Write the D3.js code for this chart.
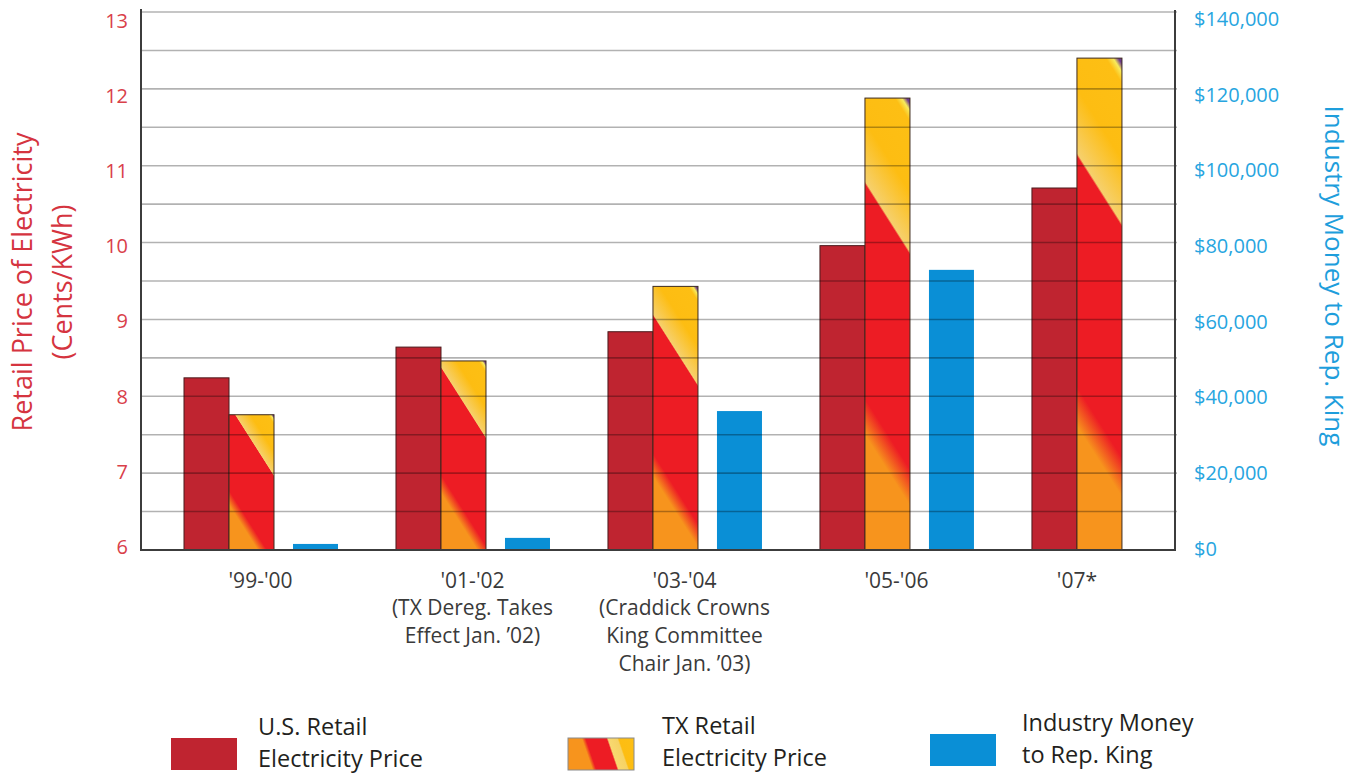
<!DOCTYPE html>
<html><head><meta charset="utf-8">
<script src="https://cdn.jsdelivr.net/npm/d3@7"></script>
<style>
body{margin:0;background:#fff}
svg{display:block}
text{font-family:"Open Sans",sans-serif}
</style>
</head><body>
<svg id="chart" width="1360" height="774"></svg>
<script>
// ---------------- data ----------------
const categories = ["'99-'00", "'01-'02", "'03-'04", "'05-'06", "'07*"];
const categoryNotes = [
  [],
  ["(TX Dereg. Takes", "Effect Jan. \u201902)"],
  ["(Craddick Crowns", "King Committee", "Chair Jan. \u201903)"],
  [],
  []
];
const usPrice = [8.24, 8.64, 8.84, 9.96, 10.71];
const txPrice = [7.76, 8.46, 9.43, 11.88, 12.40];
const industryMoney = [1600, 3200, 36700, 74000, null];
const leftTicks = [6, 7, 8, 9, 10, 11, 12, 13];
const rightTicks = [0, 20000, 40000, 60000, 80000, 100000, 120000, 140000];
const leftTitle = ["Retail Price of Electricity", "(Cents/KWh)"];
const rightTitle = "Industry Money to Rep. King";
const legendLabels = [
  ["U.S. Retail", "Electricity Price"],
  ["TX Retail", "Electricity Price"],
  ["Industry Money", "to Rep. King"]
];

// ---------------- layout ----------------
const svg = d3.select("#chart");
const plotL = 141, plotR = 1175, plotT = 12, plotB = 550;

const y = d3.scaleLinear().domain([6, 13]).range([plotB, plotT]);
const yLabel = d3.scaleLinear().domain([6, 13]).range([547, 21]);
const yR = d3.scaleLinear().domain([0, 140000]).range([plotB, 20]);

const x0 = d3.scaleBand().domain(categories).range([184, 1185]).paddingInner(0.278).paddingOuter(0);
const xPair = d3.scaleBand().domain(["us", "tx"]).range([0, 90]);
const xMoney = d3.scaleBand().domain(["money"]).range([109, 154]);

const US_COLOR = "#bf2430";
const MONEY_COLOR = "#0a8fd6";
const RED_TXT = "#d9404a";
const BLUE_TXT = "#27a5df";

const defs = svg.append("defs");

// gradient in user space with fixed stripe angle, scaled to each rect
function stripeGradient(id, rx, ry, rw, rh, dir, stops) {
  const len = Math.hypot(dir[0], dir[1]);
  const dx = dir[0] / len, dy = dir[1] / len;
  const L = dx * rw + (-dy) * rh;
  const g = defs.append("linearGradient").attr("id", id)
    .attr("gradientUnits", "userSpaceOnUse")
    .attr("x1", rx).attr("y1", ry + rh)
    .attr("x2", rx + dx * L).attr("y2", ry + rh + dy * L);
  stops.forEach(s => g.append("stop").attr("offset", s[0]).attr("stop-color", s[1]));
  return "url(#" + id + ")";
}
const barStops = [
  [0, "#f7941d"], [0.22, "#f7941d"], [0.29, "#ed1c24"], [0.70, "#ed1c24"],
  [0.706, "#f6d06c"], [0.82, "#fdbd12"], [0.955, "#fdbf14"], [0.975, "#f7ea5c"], [0.99, "#6b3a8e"], [1, "#6b3a8e"]
];
const legendStops = [
  [0, "#f7941d"], [0.32, "#f7941d"], [0.37, "#ed1c24"], [0.64, "#ed1c24"],
  [0.66, "#f8d870"], [0.78, "#f6d264"], [0.80, "#fdbd12"], [1, "#fdbf14"]
];

const gBars = svg.append("g");

categories.forEach((c, i) => {
  const gx = x0(c);
  // US bar
  gBars.append("rect")
    .attr("x", gx + xPair("us")).attr("width", xPair.bandwidth())
    .attr("y", y(usPrice[i])).attr("height", y(6) - y(usPrice[i]))
    .attr("fill", US_COLOR).attr("stroke", "#4a1a1c").attr("stroke-width", 1);
  // TX bar
  const tx = gx + xPair("tx"), ty = y(txPrice[i]), tw = xPair.bandwidth(), th = y(6) - y(txPrice[i]);
  const fill = stripeGradient("txg" + i, tx, ty, tw, th, [0.844, -0.537], barStops);
  gBars.append("rect")
    .attr("x", tx).attr("width", tw).attr("y", ty).attr("height", th)
    .attr("fill", fill).attr("stroke", "#3d2a1e").attr("stroke-width", 1);
  // money bar
  if (industryMoney[i] != null) {
    gBars.append("rect")
      .attr("x", gx + xMoney("money")).attr("width", xMoney.bandwidth())
      .attr("y", yR(industryMoney[i])).attr("height", yR(0) - yR(industryMoney[i]))
      .attr("fill", MONEY_COLOR);
  }
});

// grid lines on top of bars
const gridVals = d3.range(13, 6.4, -0.5).map(v => +v.toFixed(1));
svg.append("g").selectAll("line").data(gridVals).join("line")
  .attr("x1", plotL).attr("x2", plotR + 2)
  .attr("y1", d => y(d)).attr("y2", d => y(d))
  .attr("stroke", "#000").attr("stroke-opacity", 0.3).attr("stroke-width", 1.6);

// axis frame
const frame = svg.append("g").attr("stroke", "#3c3c3c").attr("stroke-width", 2).attr("fill", "none");
frame.append("line").attr("x1", plotL).attr("x2", plotL).attr("y1", plotT - 3).attr("y2", plotB + 1);
frame.append("line").attr("x1", plotR).attr("x2", plotR).attr("y1", plotT - 2).attr("y2", plotB + 1);
frame.append("line").attr("x1", plotL).attr("x2", plotR).attr("y1", plotB).attr("y2", plotB);

// left tick labels
const leftAxis = d3.axisLeft(yLabel).tickValues(leftTicks).tickSize(0).tickPadding(0).tickFormat(d3.format("d"));
svg.append("g").attr("transform", "translate(128,0)").call(leftAxis)
  .call(g => g.select(".domain").remove())
  .selectAll("text").attr("fill", RED_TXT).attr("font-size", 20).attr("font-family", "Open Sans");

// right tick labels
const rightAxis = d3.axisRight(yR).tickValues(rightTicks).tickSize(0).tickPadding(0)
  .tickFormat(d => "$" + d3.format(",")(d));
svg.append("g").attr("transform", "translate(1194,-1)").call(rightAxis)
  .call(g => g.select(".domain").remove())
  .selectAll("text").attr("fill", BLUE_TXT).attr("font-size", 20).attr("font-family", "Open Sans");

// left title
const lt = svg.append("text").attr("transform", "translate(32,282) rotate(-90)")
  .attr("text-anchor", "middle").attr("fill", "#d5343f").attr("font-size", 27);
lt.append("tspan").attr("x", 0).attr("dy", 0).text(leftTitle[0]);
lt.append("tspan").attr("x", 0).attr("dy", 40).text(leftTitle[1]);

// right title
svg.append("text").attr("transform", "translate(1325,276) rotate(90)")
  .attr("text-anchor", "middle").attr("fill", "#1e9edc").attr("font-size", 26)
  .text(rightTitle);

// category labels
categories.forEach((c, i) => {
  const cx = industryMoney[i] != null ? x0(c) + x0.bandwidth() / 2 : x0(c) + xPair.range()[1] / 2;
  const lines = [c].concat(categoryNotes[i]);
  const t = svg.append("text").attr("text-anchor", "middle").attr("fill", "#3a3a3a").attr("font-size", 21);
  lines.forEach((ln, k) => {
    t.append("tspan").attr("x", cx).attr("y", 587.5 + k * 27.7).text(ln);
  });
});

// legend
const legendSwatch = [[171, 738], [568, 738], [930, 734]];
const legendText = [[258, 735], [662, 734], [1022, 731]];
const swW = 66, swH = 32;
legendSwatch.forEach((p, i) => {
  let fill;
  if (i === 0) fill = US_COLOR;
  else if (i === 1) fill = stripeGradient("lg1", p[0], p[1], swW, swH, [0.946, -0.325], legendStops);
  else fill = MONEY_COLOR;
  svg.append("rect").attr("x", p[0]).attr("y", p[1]).attr("width", swW).attr("height", swH)
    .attr("fill", fill).attr("stroke", i === 1 ? "#8a8a8a" : "none").attr("stroke-width", 1);
  const t = svg.append("text").attr("fill", "#231f20").attr("font-size", 23.5);
  legendLabels[i].forEach((ln, k) => {
    t.append("tspan").attr("x", legendText[i][0]).attr("y", legendText[i][1] + k * 32).text(ln);
  });
});
</script>
</body></html>
